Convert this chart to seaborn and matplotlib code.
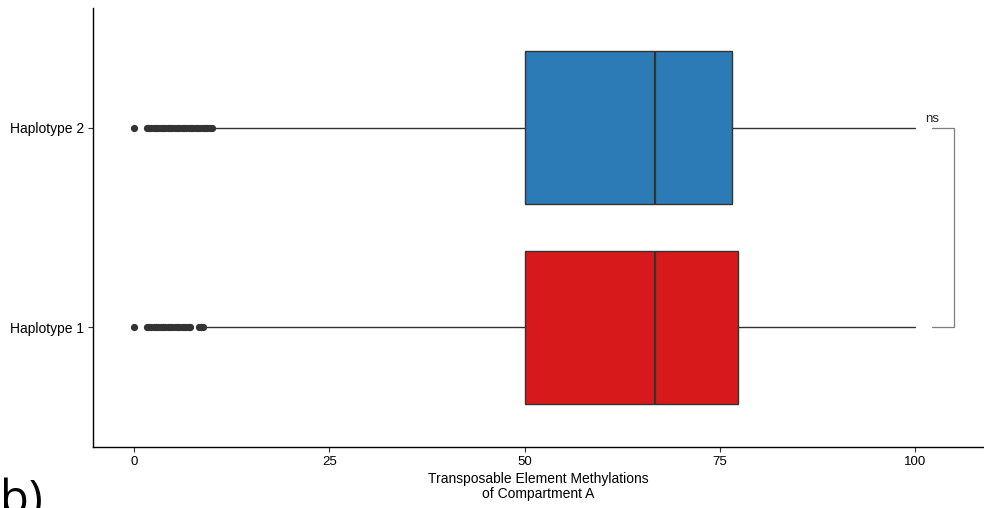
import matplotlib
matplotlib.use("Agg")
import matplotlib.pyplot as plt
import seaborn as sns

# Summary statistics of TE methylation (%) per haplotype
categories = ["Haplotype 1", "Haplotype 2"]
box_colors = ["#D7191C", "#2C7BB6"]
q1 = [50.0, 50.0]
medians = [66.7, 66.7]
q3 = [77.3, 76.6]
whisker_low = [9.1, 10.2]
whisker_high = [100.0, 100.0]
outliers_hap1 = [0.0, 1.6, 1.9, 2.2, 2.5, 2.8, 3.1, 3.4, 3.7, 4.0, 4.3, 4.6,
                 4.9, 5.2, 5.5, 5.8, 6.1, 6.4, 6.7, 7.0, 7.2, 8.3, 8.6, 8.8]
outliers_hap2 = [0.0, 1.6, 1.9, 2.2, 2.5, 2.8, 3.1, 3.4, 3.7, 4.0, 4.3, 4.6,
                 4.9, 5.2, 5.5, 5.8, 6.1, 6.4, 6.7, 7.0, 7.3, 7.6, 7.9, 8.2,
                 8.5, 8.8, 9.1, 9.4, 9.7, 10.0]
x_ticks = [0, 25, 50, 75, 100]
x_label = "Transposable Element Methylations\nof Compartment A"
sig_label = "ns"

sns.set_theme(style="ticks")
plt.rcParams["font.family"] = ["Liberation Sans", "DejaVu Sans"]

fig = plt.figure(figsize=(9.84, 5.08), dpi=100)
ax = fig.add_axes([93 / 984, 61 / 508, 1 - 93 / 984, (447 - 8) / 508])

stats = []
for i, name in enumerate(categories):
    stats.append({
        "label": name,
        "q1": q1[i], "med": medians[i], "q3": q3[i],
        "whislo": whisker_low[i], "whishi": whisker_high[i],
        "fliers": [outliers_hap1, outliers_hap2][i],
    })

bp = ax.bxp(stats, positions=[1, 2], widths=0.765, vert=False,
            patch_artist=True, showcaps=False,
            boxprops=dict(edgecolor="#333333", linewidth=1.0),
            medianprops=dict(color="#333333", linewidth=1.6),
            whiskerprops=dict(color="#333333", linewidth=1.0),
            flierprops=dict(marker="o", markersize=4.2, markerfacecolor="#333333",
                            markeredgecolor="#333333", linestyle="none"))
for patch, c in zip(bp["boxes"], box_colors):
    patch.set_facecolor(c)

# significance bracket between the two haplotypes
br_col = "#7f7f7f"
ax.plot([102.2, 105.0, 105.0, 102.2], [2, 2, 1, 1], color=br_col, lw=0.9,
        clip_on=False)
ax.text(102.1, 2.015, sig_label, ha="center", va="bottom", fontsize=9.5,
        color="#222222")

ax.set_xlim(-5.25, 108.8)
ax.set_ylim(0.4, 2.6)
ax.set_xticks(x_ticks)
ax.set_xticklabels([str(t) for t in x_ticks])
ax.set_yticks([1, 2])
ax.set_yticklabels(categories)
ax.set_xlabel(x_label, fontsize=10, color="black", labelpad=3, linespacing=1.05)
ax.set_ylabel("")
ax.tick_params(axis="both", labelsize=9.5, length=3.5, width=0.8,
               colors="#333333", labelcolor="black", pad=3)
ax.tick_params(axis="y", labelsize=10)
sns.despine(ax=ax, top=True, right=True)
for s in ["left", "bottom"]:
    ax.spines[s].set_color("black")
    ax.spines[s].set_linewidth(1.0)
ax.set_facecolor("white")
fig.patch.set_facecolor("white")

fig.text(0.0, 1 - 478 / 508, "b)", fontsize=34, ha="left", va="top",
         family=["Open Sans", "DejaVu Sans"], color="black")

fig.savefig("out.png", dpi=100, facecolor="white")
